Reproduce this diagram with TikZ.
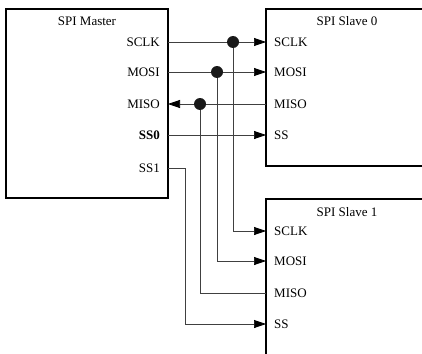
\documentclass[tikz,border=0pt]{standalone}
\usepackage{fontspec}
\setmainfont{Liberation Serif}
\usetikzlibrary{arrows.meta}

\begin{document}
\begin{tikzpicture}[x=1pt, y=-1pt, >={Triangle[length=12pt,width=8pt,color=black]},
    boite/.style={line width=1.3pt},
    fil/.style={line width=0.7pt, black!75},
    port/.style={font=\fontsize{13}{15}\selectfont, inner sep=0pt},
    point/.style={circle, fill=black!90, inner sep=0pt, minimum size=12pt}]
    \useasboundingbox (0,0) rectangle (422,353);
    \clip (0,0) rectangle (422,353);

    % Boîtiers
    \draw[boite] (6,9) rectangle (168,198);
    \draw[boite] (430,9) -- (266,9) -- (266,166) -- (430,166);
    \draw[boite] (430,199) -- (266,199) -- (266,360);

    % Titres des boîtiers
    \node[port] (maitre) at (87,21) {SPI Master};
    \node[port] (esclave0) at (347,21) {SPI Slave 0};
    \node[port] (esclave1) at (347,212) {SPI Slave 1};

    % Broches du maître
    \node[port, anchor=east] (lm-sclk) at (160,42) {SCLK};
    \node[port, anchor=east] (lm-mosi) at (160,72) {MOSI};
    \node[port, anchor=east] (lm-miso) at (160,104) {MISO};
    \node[port, anchor=east, font=\fontsize{13}{15}\selectfont\bfseries] (lm-ss0) at (160,135) {SS0};
    \node[port, anchor=east] (lm-ss1) at (160,168) {SS1};
    \coordinate (m-sclk) at (168,42);
    \coordinate (m-mosi) at (168,72);
    \coordinate (m-miso) at (168,104);
    \coordinate (m-ss0) at (168,135);
    \coordinate (m-ss1) at (168,168);

    % Broches de l'esclave 0
    \node[port, anchor=west] (ls0-sclk) at (274,42) {SCLK};
    \node[port, anchor=west] (ls0-mosi) at (274,72) {MOSI};
    \node[port, anchor=west] (ls0-miso) at (274,104) {MISO};
    \node[port, anchor=west] (ls0-ss) at (274,135) {SS};
    \coordinate (s0-sclk) at (266,42);
    \coordinate (s0-mosi) at (266,72);
    \coordinate (s0-miso) at (266,104);
    \coordinate (s0-ss) at (266,135);

    % Broches de l'esclave 1
    \node[port, anchor=west] (ls1-sclk) at (274,231) {SCLK};
    \node[port, anchor=west] (ls1-mosi) at (274,261) {MOSI};
    \node[port, anchor=west] (ls1-miso) at (274,293) {MISO};
    \node[port, anchor=west] (ls1-ss) at (274,324) {SS};
    \coordinate (s1-sclk) at (266,231);
    \coordinate (s1-mosi) at (266,261);
    \coordinate (s1-miso) at (266,293);
    \coordinate (s1-ss) at (266,324);

    % Points de jonction
    \coordinate (j-sclk) at (233,42);
    \coordinate (j-mosi) at (217,72);
    \coordinate (j-miso) at (200,104);
    \coordinate (j-ss1) at (185,168);

    % Liaisons
    \draw[fil, ->] (m-sclk) -- (s0-sclk);
    \draw[fil, ->] (j-sclk) |- (s1-sclk);
    \draw[fil, ->] (m-mosi) -- (s0-mosi);
    \draw[fil, ->] (j-mosi) |- (s1-mosi);
    \draw[fil, ->] (s0-miso) -- (m-miso);
    \draw[fil] (s1-miso) -| (j-miso);
    \draw[fil, ->] (m-ss0) -- (s0-ss);
    \draw[fil, ->] (m-ss1) -- (j-ss1) |- (s1-ss);

    % Jonctions
    \node[point] (d-sclk) at (j-sclk) {};
    \node[point] (d-mosi) at (j-mosi) {};
    \node[point] (d-miso) at (j-miso) {};
\end{tikzpicture}
\end{document}
